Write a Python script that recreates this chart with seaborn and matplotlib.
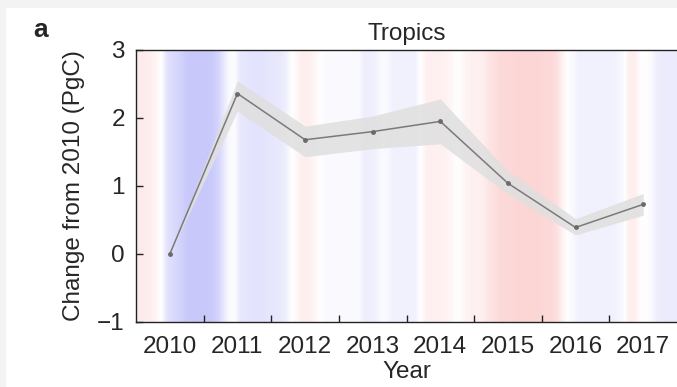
import numpy as np
import matplotlib
matplotlib.use("Agg")
import matplotlib.pyplot as plt
from matplotlib.colors import LinearSegmentedColormap
from matplotlib.patches import Rectangle
import seaborn as sns

# datos
years = [2010, 2011, 2012, 2013, 2014, 2015, 2016, 2017]
change = [0.0, 2.36, 1.68, 1.80, 1.95, 1.04, 0.39, 0.73]
upper = [0.0, 2.55, 1.88, 2.03, 2.28, 1.22, 0.52, 0.89]
lower = [0.0, 2.10, 1.43, 1.55, 1.62, 0.88, 0.28, 0.57]

# índice mensual de fondo (jul 2009 - jun 2017), azul negativo, rojo positivo
enso_monthly = (
    [0.35, 0.35, 0.3, 0.2, 0.0, -0.5, -0.65, -0.75]
    + [-0.9, -1.0, -1.0, -1.0, -1.0, -0.95]
    + [-0.8, -0.45, -0.1, -0.05]
    + [-0.4, -0.45, -0.5, -0.5, -0.5, -0.45, -0.45, -0.4, -0.3]
    + [-0.05, 0.15, 0.3, 0.3, 0.2, 0.05]
    + [-0.08] * 7
    + [-0.3, -0.3, -0.25, -0.1, -0.1]
    + [-0.25] * 5
    + [0.0, 0.25, 0.25, 0.25, 0.25, 0.2, 0.05, 0.05]
    + [0.2, 0.25, 0.25, 0.3, 0.45, 0.55]
    + [0.65, 0.7, 0.7, 0.75, 0.75, 0.75, 0.75, 0.75, 0.7, 0.7]
    + [0.6, 0.3, 0.0, -0.1]
    + [-0.25] * 7
    + [-0.2, -0.1, 0.3, 0.3, 0.05, 0.0, -0.1]
    + [-0.3, -0.35, -0.35, -0.35]
)

sns.set_style("ticks")
plt.rcParams["font.family"] = ["Liberation Sans", "DejaVu Sans"]

fig = plt.figure(figsize=(6.77, 3.87), dpi=100, facecolor="#f3f3f3")
fig.patches.append(Rectangle((6 / 677, 0), 1, 1 - 8 / 387, transform=fig.transFigure,
                             facecolor="white", edgecolor="none", zorder=-10))
ax = fig.add_axes([136 / 677, 1 - 322 / 387, 1 - 136 / 677, 272 / 387])

cmap = LinearSegmentedColormap.from_list("enso", ["#c8c8fb", "#ffffff", "#fcc8c8"])
ax.imshow(np.array([enso_monthly]), extent=[2009.5, 2017.5, -1, 3], aspect="auto",
          cmap=cmap, vmin=-1, vmax=1, interpolation="bilinear", zorder=0)

ax.fill_between(years, lower, upper, color="#e0e0e0", alpha=0.88, lw=0, zorder=1)
sns.lineplot(x=years, y=change, ax=ax, color="#7a7a7a", lw=1.1, marker="o",
             markersize=3.5, markeredgewidth=0, markerfacecolor="#6a6a6a", zorder=2)

ax.set_xlim(2009.5, 2017.5)
ax.set_ylim(-1, 3)
ax.set_yticks([-1, 0, 1, 2, 3])
ax.set_yticklabels(["\u22121", "0", "1", "2", "3"])
ax.set_xticks(years)
ax.set_xticks([y + 0.5 for y in years[:-1]], minor=True)

ax.tick_params(axis="x", which="major", length=0, pad=10, labelsize=17.5)
ax.tick_params(axis="x", which="minor", direction="in", length=5, width=1.0, color="#222")
ax.tick_params(axis="y", direction="in", length=5, width=1.0, color="#222", pad=8, labelsize=17.5)

for side in ["top", "bottom", "left"]:
    ax.spines[side].set_color("#222")
    ax.spines[side].set_linewidth(1.0)
ax.spines["right"].set_visible(False)

ax.set_title("Tropics", fontsize=17.5, pad=7)
ax.set_xlabel("Year", fontsize=17.5, labelpad=2)
ax.set_ylabel("Change from 2010 (PgC)", fontsize=17.5, labelpad=9)
fig.text(33 / 677, 1 - 37 / 387, "a", fontsize=19, fontweight="bold", va="baseline")

fig.savefig("out.png", dpi=100, facecolor=fig.get_facecolor())
